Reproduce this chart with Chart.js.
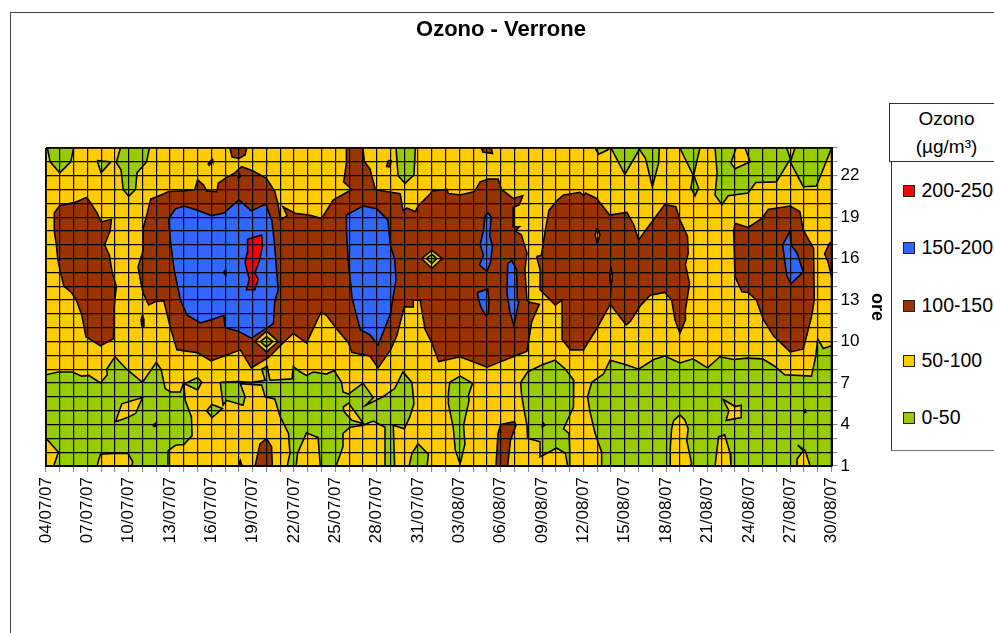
<!DOCTYPE html>
<html><head><meta charset="utf-8">
<script src="https://cdn.jsdelivr.net/npm/chart.js@4"></script>
<style>
html,body{margin:0;padding:0;background:#fff;overflow:hidden;width:994px;height:633px}
#wrap{position:relative;width:994px;height:633px;overflow:hidden;font-family:"Liberation Sans",Arial,sans-serif;color:#000}
#frame{position:absolute;left:10px;top:12px;width:1100px;height:800px;border:1px solid #444;box-sizing:border-box}
canvas{position:absolute;left:0;top:0}
#lgHead{position:absolute;left:889px;top:103px;width:130px;height:59px;border:1px solid #333;background:#fff;box-sizing:border-box;}
#lgHead div{position:absolute;left:0;width:113px;text-align:center;font-size:19px;line-height:22px}
#lgBody{position:absolute;left:891px;top:162px;width:130px;height:289px;border-left:1px solid #333;border-bottom:1px solid #777;box-sizing:border-box;background:#fff}
.sw{position:absolute;left:11px;width:12px;height:12px;border:1px solid #222;box-sizing:border-box}
.lb{position:absolute;left:29.5px;font-size:19.5px;line-height:22px;white-space:nowrap}
</style></head><body>
<div id="wrap">
<div id="frame"></div>
<canvas id="c" width="994" height="633"></canvas>
<div id="lgHead"><div style="top:4px">Ozono</div><div style="top:32px">(µg/m³)</div></div>
<div id="lgBody"></div>
</div>
<script>
const titleText = "Ozono - Verrone";
const yAxisName = "ore";
const dayLabels = ["04/07/07","07/07/07","10/07/07","13/07/07","16/07/07","19/07/07","22/07/07","25/07/07","28/07/07","31/07/07","03/08/07","06/08/07","09/08/07","12/08/07","15/08/07","18/08/07","21/08/07","24/08/07","27/08/07","30/08/07"];
const hourLabels = [1,4,7,10,13,16,19,22];
const legendLabels = ["200-250","150-200","100-150","50-100","0-50"];
const bandColors = {red:"#FF0000",blue:"#3366FF",brown:"#993300",yellow:"#FFCC00",green:"#99CC00"};

// every contour patch: [day index since 04/07/07, hour]
const plotExtent = [[0,1],[57,1],[57,24],[0,24]];

const green0_50 = [
 [[0.1,24],[0.3,23],[1,22.2],[1.8,23],[2,24]],
 [[3.7,23.1],[4.7,23],[4,22.2]],
 [[5.4,24],[5.1,22.95],[5.45,22.4],[5.6,21],[6,20.5],[6.5,21],[6.6,22.2],[7.3,23],[7.5,24]],
 [[25.4,24],[26.8,24],[26.7,22.05],[26.05,21.45],[25.55,22]],
 [[39.85,24],[40.1,23.55],[40.75,23.85],[40.9,24]],
 [[41,24],[42,22.1],[43,23.8],[43.1,24]],
 [[43,24],[43.5,23.25],[44,21.2],[44.45,22.9],[44.5,24]],
 [[46,24],[46.95,22.05],[46.8,21.1],[47.1,20.55],[47.35,21.1],[47,22.05],[47.45,24]],
 [[48.55,24],[48.7,22.2],[48.55,20.6],[49.05,19.9],[49.5,20.55],[50.95,20.75],[51.5,21.5],[53,21.55],[53.95,23.1],[54.95,21.2],[55.9,21.25],[56.65,23.1],[57,24],[54.35,24],[54.05,23.1],[53.75,24]],
 [[0,7.6],[0.9,7.8],[1.9,7.8],[2.6,7.5],[3.1,7.55],[3.95,7],[4.45,7.6],[4.4,8],[5,8.9],[5.85,8],[7,7.05],[8,8.5],[8.35,8],[8.65,6.6],[9.05,6.35],[9.75,6.35],[10,7.05],[10.1,5.75],[10.55,4.55],[10.6,3.2],[10,2.55],[9.4,2.5],[8.85,2.1],[8.85,1],[0,1]],
 [[10.05,6.95],[11,7.4],[11.3,7.05],[11,6.5]],
 [[11.65,5],[12.05,5.45],[12.8,5.15],[12.05,4.5]],
 [[12.65,7.05],[13.85,7.1],[14.9,7.05],[15.9,7.2],[15.65,8],[16.05,8.2],[16.25,7.2],[17.85,7.3],[17.95,8.2],[18.45,7.8],[18.9,7.55],[19.4,7.8],[20.35,7.65],[20.9,7.9],[21.45,7.05],[21.55,6.35],[21.95,6.2],[23,7],[23.75,5.95],[23.2,5.4],[24.35,5.95],[25.3,6.6],[25.9,7.8],[26.55,7.05],[26.7,5.5],[26.4,4.55],[26,3.7],[25.2,3.95],[25.3,1],[24.6,1],[24.6,3.8],[23.75,4.25],[23,3.95],[22.05,3.8],[21.55,3.35],[21.55,2.4],[21.05,1],[19.9,1],[19.75,3.05],[18.9,3.4],[18.25,1.9],[18.15,1],[17.5,1],[17.7,1.9],[17.6,3.35],[17,4.55],[16.6,5.85],[15.9,6],[15.65,6.85],[14.1,6.95],[14.45,6],[14.3,5.4],[13.1,5.75],[12.85,5.4]],
 [[26.35,1],[26.55,1.9],[27,2.6],[27.75,1.85],[27.65,1]],
 [[29.2,6.25],[29.3,7.05],[30.05,7.5],[30.95,7],[30.65,6.1],[30.7,5.75],[30.3,3.95],[30.4,2.6],[30.05,1.15],[29.7,2.15],[29.55,3.8],[29.2,5.5]],
 [[34.45,7.05],[34.95,7.8],[35.97,8.3],[36.94,8.65],[37.65,8.05],[38.3,7.2],[38.25,6.1],[38.3,5.25],[37.55,3.7],[37.95,3.35],[38,2.25],[38,1],[37.85,1],[37.7,1.9],[37.05,2.3],[35.85,1.65],[35.85,2.75],[34.95,3],[34.9,3.95],[34.7,5],[34.5,6.25]],
 [[40.32,1],[40.32,2],[39.85,3.35],[39.5,4.8],[39.3,6],[39.6,7.05],[40.45,7.65],[40.93,8.65],[42.15,8.3],[43,8],[44.1,8.7],[44.9,8.95],[46,8.45],[46.95,8.75],[48,8.1],[48.9,8.9],[49.9,8.7],[50.85,8.8],[52,8.75],[52.9,8.2],[53.6,7.6],[55.55,7.5],[55.85,8.9],[56,10.2],[56.4,9.5],[57,9.7],[57,1]]
];

const yellowIslands = [
 [[0,3],[0.9,2],[0.55,1],[0,1]],
 [[3.7,1],[3.95,1.85],[4.9,1.9],[5.95,1.9],[6.3,1.3],[6.2,1]],
 [[5.05,4.2],[5.5,5.5],[7,5.95],[6.5,4.8],[5.9,4.5]],
 [[21.55,5.25],[21.95,5.55],[23.05,4.05],[22.2,4.3],[21.65,4.9]],
 [[45.3,1],[45.3,2.35],[45.4,3.7],[45.55,4.3],[46,4.7],[46.35,4.35],[46.6,3.7],[46.5,2.85],[46.85,1.15],[46.7,1]],
 [[48.55,1],[48.8,3.1],[49.25,3.25],[49.65,1.9],[49.7,1]],
 [[49.1,5.85],[50,5.3],[50.45,5.4],[50.45,4.5],[49.35,4.3],[49.55,5]],
 [[54.5,1],[54.5,1.5],[54.95,2.1],[54.55,2.5],[55.1,2.1],[55.45,1]],
 [[50.07,24],[50.73,24],[51.1,23],[50,22.5],[49.7,22.9]]
];

const brown100_150 = [
 [[2.93,20.43],[2.05,20.05],[1,19.85],[0.6,19.3],[0.6,18],[0.75,17],[0.85,16],[1.05,15],[1.3,14],[1.85,13.55],[2.2,13],[2.6,11.9],[2.9,10.35],[3.95,9.7],[4.9,10.2],[4.95,12.5],[5.1,14],[4.8,15],[4.6,16.25],[4.25,17],[4.65,18],[4.75,18.85],[4,18.65],[3.7,19.3],[3.2,20.1]],
 [[6.68,15.4],[7.05,16.6],[7.05,18.2],[7.35,19.3],[7.6,20.3],[8.35,20.6],[8.9,20.85],[10,20.9],[10.8,21],[11,21.7],[11.45,21.3],[11.65,20.9],[12.4,20.85],[12.5,21.45],[13,21.8],[13.7,22.2],[14.2,22.65],[15,22.35],[16,21.8],[16.6,20.85],[16.85,19.9],[17,18.8],[17.5,19.1],[17.2,19.75],[18.07,19.28],[19.1,19.15],[19.3,19.1],[20,18.9],[20.25,19.3],[20.85,20.25],[22.2,21],[21.6,21.55],[21.8,22.9],[21.8,24],[23,24],[23.1,23],[23.5,22.5],[23.9,21],[24.7,20.85],[25.7,20.7],[25.9,19.5],[26.2,19.65],[26.8,19.4],[27,19.8],[27.9,20.7],[28,20.9],[29.1,21],[29.2,20.7],[30.05,20.6],[31.1,20.85],[31.5,21.55],[32.1,21.75],[32.8,21.75],[33.05,21],[33.9,20.35],[34.6,20.55],[34.35,19.9],[33.9,19.7],[33.9,18.3],[34.35,18.3],[34.05,18],[34.5,17.7],[34.9,16.4],[34.75,15.2],[34.9,13],[35.1,12.85],[35.8,12.7],[35.25,11.45],[34.9,9.3],[32,8.15],[30.05,8.9],[28.5,8.55],[28,9.9],[27.5,10.9],[27.15,13],[26.65,13],[26.65,12.5],[26,12.5],[25.45,10.4],[25,9.4],[24.1,8.1],[23.5,8.95],[22.2,9.2],[21.95,9.9],[21.1,10.9],[20.35,11.9],[19.95,12.1],[18.9,9.9],[17.95,10.6],[17,9.7],[16.15,8.85],[14.9,8.1],[14.1,9.4],[11.98,8.6],[10.97,9.2],[9.5,9.4],[9.03,11],[8.55,12.95],[7.95,12.9],[7.45,12.65],[7.05,13.5],[6.85,14.45]],
 [[35.6,16.15],[35.95,16.25],[36.2,17.85],[36.5,19.5],[37.15,20.25],[37.55,20.6],[38.75,20.8],[39,20.55],[39.15,20.75],[39.95,20.35],[40.9,19.15],[42.15,19.35],[42.65,18.45],[43,17.35],[44,18.7],[44.9,19.9],[45.7,19.75],[46,18.8],[46.55,17.6],[46.6,16.4],[46.4,15.55],[46.7,14.2],[46.4,12.3],[46.4,11.55],[46,10.6],[45.65,11.55],[45.4,13],[44.9,13.55],[43.85,13.35],[43.1,12.55],[42.4,11.45],[42.1,11.2],[41.55,11.9],[40.95,12.7],[40,11],[39,9.4],[38.05,9.4],[37.45,10.15],[37.45,13],[36.95,12.65],[35.85,13.75],[35.85,15.2]],
 [[50,18.55],[50.95,18.25],[51.95,18.9],[52.4,19.55],[54,19.8],[54.7,19.4],[54.95,18.05],[55.7,16.75],[55.75,13],[55.55,11.8],[54.95,9.45],[54,9.25],[52.8,10.4],[52.05,11.6],[51.55,13],[50.95,13.55],[50.5,13.6],[50,14.7],[49.9,18]],
 [[57,17.2],[56.85,17.1],[56.5,16.35],[56.75,15.75],[57,14.7]],
 [[31.6,24],[32.3,24],[32.4,23.6],[31.7,23.7]],
 [[13.35,24],[14.56,24],[14.45,23.5],[14,23.25],[13.5,23.35]],
 [[24.7,22.65],[24.85,23.1],[25.05,23.1],[24.95,22.65]],
 [[15.17,1],[15.53,2.6],[16,3],[16.37,2.4],[16.42,1]],
 [[32.65,1],[32.8,3.35],[33,4],[34,4.2],[34.1,3.95],[33.7,2.85],[33.5,1]]
];

const yellowInBrown = [
 [[16,10.75],[16.85,10],[16,9.25],[15.15,10]],
 [[28,16.6],[28.75,16],[28,15.3],[27.25,16]],
 [[40,18.2],[40.2,17.7],[40,17.1],[39.85,17.7]],
 [[41,15.4],[41.1,14.7],[41,13.9],[40.9,14.7]]
];
const greenInBrown = [
 [[16,10.35],[16.45,10],[16,9.6],[15.55,10]],
 [[28,16.3],[28.35,16],[28,15.65],[27.6,16]]
];

const blue150_200 = [
 [[8.9,18.9],[9.4,19.6],[10,19.8],[11,19.5],[12,19.1],[12.9,19.3],[14,20.25],[14.9,19.45],[15.95,19.95],[16.4,18.7],[16.6,16.9],[16.75,14.95],[16.85,13.75],[16.6,12.9],[16.5,11.3],[14.9,10.25],[13.95,10.75],[13,11],[12.9,11.9],[11.9,11.55],[11.2,11.35],[10.25,11.9],[9.75,13],[9.65,13.5],[9.3,15.2],[9.05,17.1]],
 [[21.8,19.15],[23,19.8],[24,19.6],[24.8,18.8],[25,16.9],[25.3,16],[25.4,14.5],[25.15,13],[25,12],[24.1,9.75],[23.5,10.5],[22.8,10.85],[22.3,12.8],[22.2,13.25],[21.95,15.65],[21.8,18]],
 [[31.85,19.1],[32.1,19.3],[32.3,19],[32.2,17.6],[32.4,16.9],[32.25,15.7],[32,15.05],[31.45,15.55],[31.75,16.25],[31.5,17],[31.75,18.05]],
 [[33.5,15.65],[33.8,15.85],[34.15,15.2],[34.2,13],[34.3,12.85],[33.95,11.15],[33.65,12.2],[33.45,13.5]],
 [[31.3,13.55],[32.05,13.8],[32.15,13],[32.1,12],[31.9,11.9],[31.55,12.5],[31.4,13]],
 [[54,18],[54.05,17],[54.5,16.4],[54.95,15.05],[54.05,14.15],[53.75,14.8],[53.45,17]]
];

const red200_250 = [
 [[14.63,17.4],[15.65,17.7],[15.7,16.9],[15.5,15.9],[15.15,14.95],[15.4,14.5],[15.15,13.75],[14.55,13.75],[14.75,14.5],[14.45,15.7],[14.6,16.4]]
];

// tiny single-reading contours that show as black specks
const specks = [
 [[11.75,22.85],[12.05,23.2],[12.1,23.05],[11.85,22.75]],
 [[6.95,11.1],[7.05,11.1],[7.1,11.6],[7,11.9],[6.9,11.6]],
 [[7.75,3.95],[7.95,4.1],[8.05,3.95],[7.85,3.85]],
 [[13.95,22],[14.05,22.1],[14.1,21.95],[14,21.85]],
 [[36,3.9],[36.1,4.1],[36.2,3.95],[36.05,3.85]],
 [[55,4.95],[55.1,5.05],[55.15,4.9],[55.05,4.85]],
 [[14,1.1],[14.1,1.4],[14.2,1.1]],
 [[12.9,15.05],[13,15.15],[13.05,15],[12.95,14.9]]
];

const layers = [
 [[plotExtent], bandColors.yellow],
 [green0_50, bandColors.green],
 [yellowIslands, bandColors.yellow],
 [brown100_150, bandColors.brown],
 [yellowInBrown, bandColors.yellow],
 [greenInBrown, bandColors.green],
 [blue150_200, bandColors.blue],
 [red200_250, bandColors.red],
 [specks, bandColors.brown]
];

const datasets = [];
layers.forEach(([patches, color]) => {
  patches.forEach(p => {
    const pts = p.concat([p[0]]).map(([x,y]) => ({x,y}));
    datasets.push({
      data: pts, showLine: true, fill: 'shape', tension: 0,
      backgroundColor: color, borderColor: '#000', borderWidth: 1.6,
      pointRadius: 0, pointHoverRadius: 0
    });
  });
});
datasets.reverse(); // Chart.js paints index 0 last

// HTML legend built from the named lists
const order = ['red','blue','brown','yellow','green'];
const tops = [24,81,139,194,251];
const body = document.getElementById('lgBody');
legendLabels.forEach((t,i)=>{
  const s=document.createElement('div');s.className='sw';s.style.top=(tops[i]-1)+'px';s.style.background=bandColors[order[i]];body.appendChild(s);
  const l=document.createElement('div');l.className='lb';l.style.top=(tops[i]-7)+'px';l.textContent=t;body.appendChild(l);
});

new Chart(document.getElementById('c'), {
  type: 'scatter',
  data: { datasets },
  options: {
    responsive: false, animation: false, events: [],
    layout: { padding: { left: 46, right: 38, top: 0, bottom: 67 } },
    plugins: {
      legend: { display: false }, tooltip: { enabled: false },
      title: { display: true, text: titleText, color: '#000',
        font: { family: '"Liberation Sans",Arial,sans-serif', size: 22, weight: 'bold', lineHeight: 1.2 },
        padding: { top: 16.8, bottom: 104.8 } }
    },
    scales: {
      x: {
        type: 'linear', min: 0, max: 57, position: 'bottom',
        afterFit(s){ s.height = 100; },
        afterBuildTicks(s){ const a=[]; for(let i=s.min;i<=s.max;i++) a.push({value:i}); s.ticks=a; },
        grid: { color: '#000', lineWidth: 1.2, z: 1, tickColor: '#808080', tickWidth: 1, tickLength: 6 },
        border: { color: '#000', width: 2, z: 2 },
        ticks: { autoSkip: false, maxRotation: 90, minRotation: 90, padding: 5, color: '#000',
          font: { family: '"Liberation Sans",Arial,sans-serif', size: 17 },
          callback: v => (v % 3 === 0 ? dayLabels[v / 3] : '') }
      },
      y: {
        type: 'linear', min: 1, max: 24, position: 'right',
        afterFit(s){ s.width = 124.5; },
        afterBuildTicks(s){ const a=[]; for(let i=s.min;i<=s.max;i++) a.push({value:i}); s.ticks=a; },
        grid: { color: '#000', lineWidth: 1.2, z: 1, tickColor: '#808080', tickWidth: 1, tickLength: 6 },
        border: { color: '#000', width: 2, z: 2 },
        title: { display: true, text: yAxisName, color: '#000', padding: { top: 68 },
          font: { family: '"Liberation Sans",Arial,sans-serif', size: 18, weight: 'bold' } },
        ticks: { autoSkip: false, padding: 3, color: '#000',
          font: { family: '"Liberation Sans",Arial,sans-serif', size: 17 },
          callback: v => (hourLabels.includes(v) ? String(v) : '') }
      }
    }
  }
});
</script>
</body></html>
